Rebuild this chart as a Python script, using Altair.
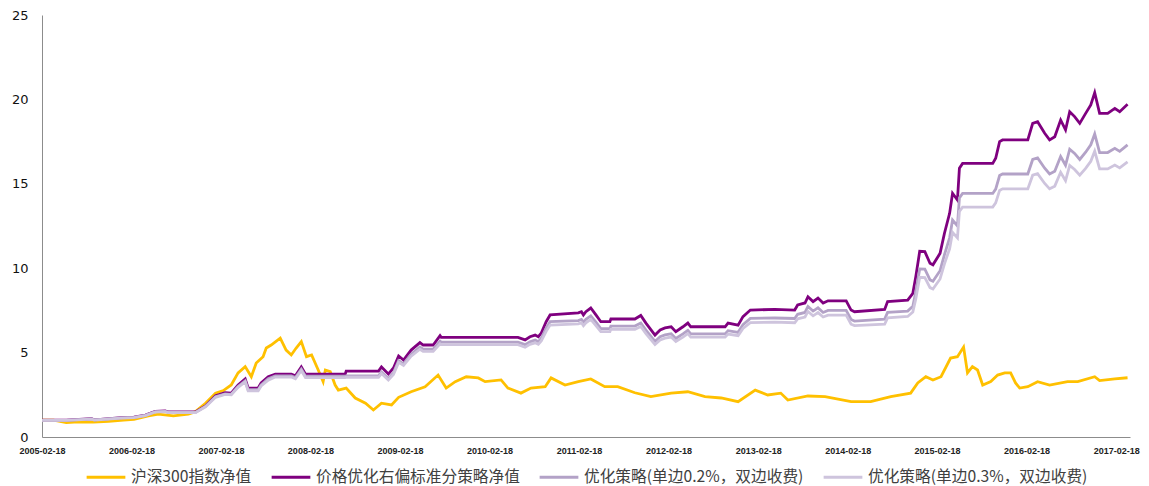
import altair as alt
import pandas as pd

names = ["沪深300指数净值", "价格优化右偏标准分策略净值",
         "优化策略(单边0.2%，双边收费)", "优化策略(单边0.3%，双边收费)"]
colors = ["#FFC000", "#7F007F", "#B3A2C7", "#CEC4DD"]

tick_dates = ["2005-02-18", "2006-02-18", "2007-02-18", "2008-02-18", "2009-02-18",
              "2010-02-18", "2011-02-18", "2012-02-18", "2013-02-18", "2014-02-18",
              "2015-02-18", "2016-02-18", "2017-02-18"]
x_domain = ["2005-02-18", "2017-04-15"]
y_ticks = [0, 5, 10, 15, 20, 25]

# 沪深300指数净值
idx_dates = [
    "2005-02-18", "2005-04-06", "2005-05-28", "2005-07-17", "2005-09-16", "2005-11-17",
    "2006-01-17", "2006-02-28", "2006-04-28", "2006-06-08", "2006-08-08", "2006-10-08",
    "2006-11-06", "2006-12-17", "2007-01-27", "2007-02-28", "2007-04-01", "2007-04-29",
    "2007-05-28", "2007-06-22", "2007-07-12", "2007-08-09", "2007-08-22", "2007-09-11",
    "2007-10-18", "2007-11-11", "2007-12-02", "2007-12-22", "2008-01-12", "2008-02-02",
    "2008-02-23", "2008-03-21", "2008-04-10", "2008-04-19", "2008-05-09", "2008-05-29",
    "2008-06-11", "2008-07-13", "2008-08-19", "2008-09-30", "2008-11-01", "2008-12-04",
    "2009-01-14", "2009-02-12", "2009-04-04", "2009-05-31", "2009-07-23", "2009-08-25",
    "2009-10-01", "2009-11-15", "2010-01-03", "2010-01-31", "2010-04-06", "2010-05-04",
    "2010-06-26", "2010-08-06", "2010-10-03", "2010-10-27", "2010-12-23", "2011-02-15",
    "2011-04-07", "2011-06-03", "2011-07-26", "2011-10-04", "2011-12-08", "2012-02-29",
    "2012-05-07", "2012-07-16", "2012-09-20", "2012-11-28", "2013-02-06", "2013-03-29",
    "2013-05-21", "2013-06-19", "2013-09-09", "2013-11-18", "2014-03-04", "2014-05-23",
    "2014-08-13", "2014-11-02", "2014-12-01", "2015-01-03", "2015-02-01", "2015-03-06",
    "2015-04-14", "2015-05-12", "2015-06-06", "2015-06-22", "2015-07-12", "2015-08-02",
    "2015-08-23", "2015-09-25", "2015-10-23", "2015-11-21", "2015-12-15", "2016-01-04",
    "2016-01-21", "2016-02-23", "2016-04-03", "2016-05-22", "2016-08-03", "2016-09-14",
    "2016-11-22", "2016-12-12", "2017-02-12", "2017-04-05"]
idx_values = [
    1.00, 1.00, 0.85, 0.90, 0.88, 0.92,
    1.00, 1.05, 1.25, 1.35, 1.25, 1.35,
    1.50, 2.00, 2.60, 2.75, 3.08, 3.80,
    4.17, 3.57, 4.38, 4.76, 5.27, 5.45,
    5.86, 5.15, 4.86, 5.27, 5.65, 4.76,
    4.86, 3.97, 3.28, 3.97, 3.87, 3.08,
    2.78, 2.90, 2.31, 2.00, 1.60, 2.00,
    1.90, 2.35, 2.68, 2.98, 3.67, 2.90,
    3.28, 3.57, 3.50, 3.28, 3.38, 2.90,
    2.60, 2.90, 2.98, 3.50, 3.08, 3.28,
    3.44, 2.98, 2.98, 2.62, 2.39, 2.60,
    2.68, 2.39, 2.31, 2.09, 2.78, 2.49,
    2.60, 2.19, 2.43, 2.39, 2.09, 2.09,
    2.39, 2.60, 3.20, 3.57, 3.38, 3.57,
    4.68, 4.76, 5.33, 3.80, 4.17, 3.97,
    3.08, 3.28, 3.67, 3.80, 3.80, 3.20,
    2.90, 2.98, 3.28, 3.08, 3.28, 3.28,
    3.57, 3.34, 3.44, 3.51]

# 策略净值（三条策略曲线共用日期）
strat_dates = [
    "2005-02-18", "2005-05-28", "2005-09-08", "2005-09-20", "2006-01-08", "2006-02-28",
    "2006-04-16", "2006-05-26", "2006-07-06", "2006-07-18", "2006-11-06", "2006-12-17",
    "2007-01-27", "2007-03-07", "2007-04-01", "2007-04-29", "2007-05-28", "2007-06-09",
    "2007-07-20", "2007-08-01", "2007-08-30", "2007-09-28", "2007-12-02", "2007-12-19",
    "2008-01-12", "2008-01-29", "2008-07-09", "2008-07-13", "2008-11-22", "2008-12-04",
    "2009-01-01", "2009-01-22", "2009-02-12", "2009-03-04", "2009-04-04", "2009-05-10",
    "2009-05-23", "2009-07-03", "2009-07-31", "2009-08-05", "2010-06-14", "2010-07-13",
    "2010-08-02", "2010-08-23", "2010-09-05", "2010-09-17", "2010-10-07", "2010-10-23",
    "2011-02-15", "2011-02-28", "2011-03-08", "2011-03-18", "2011-04-07", "2011-04-28",
    "2011-05-18", "2011-06-24", "2011-06-28", "2011-10-04", "2011-10-28", "2011-11-18",
    "2011-12-25", "2012-01-15", "2012-02-04", "2012-02-29", "2012-03-19", "2012-04-17",
    "2012-05-07", "2012-05-19", "2012-10-06", "2012-10-18", "2012-11-28", "2012-12-18",
    "2013-01-17", "2013-04-27", "2013-07-17", "2013-07-29", "2013-08-28", "2013-09-09",
    "2013-09-30", "2013-10-20", "2013-11-10", "2013-11-30", "2014-02-12", "2014-03-04",
    "2014-03-18", "2014-07-19", "2014-07-31", "2014-10-21", "2014-11-11", "2014-11-23",
    "2014-12-09", "2014-12-30", "2015-01-20", "2015-02-01", "2015-03-02", "2015-03-20",
    "2015-04-10", "2015-04-22", "2015-05-12", "2015-05-20", "2015-06-02", "2015-10-03",
    "2015-10-15", "2015-10-31", "2015-11-12", "2016-02-23", "2016-03-14", "2016-04-03",
    "2016-05-02", "2016-05-22", "2016-06-12", "2016-07-06", "2016-07-26", "2016-08-12",
    "2016-09-01", "2016-09-22", "2016-10-16", "2016-11-06", "2016-11-22", "2016-12-12",
    "2017-01-14", "2017-02-12", "2017-03-04", "2017-04-05"]
strat_values = [
    1.00, 1.00, 1.08, 1.02, 1.15, 1.18,
    1.30, 1.52, 1.54, 1.48, 1.48, 1.84,
    2.45, 2.62, 2.60, 3.08, 3.44, 2.90,
    2.90, 3.20, 3.57, 3.72, 3.72, 3.62,
    4.15, 3.72, 3.72, 3.90, 3.90, 4.15,
    3.73, 4.09, 4.80, 4.56, 5.15, 5.59,
    5.45, 5.45, 6.00, 5.90, 5.90, 5.75,
    5.94, 6.04, 5.94, 6.16, 6.83, 7.23,
    7.35, 7.42, 7.23, 7.42, 7.64, 7.23,
    6.83, 6.83, 6.99, 6.99, 7.20, 6.75,
    6.04, 6.34, 6.46, 6.53, 6.24, 6.53,
    6.75, 6.53, 6.53, 6.75, 6.63, 7.13,
    7.52, 7.56, 7.52, 7.82, 7.94, 8.31,
    8.02, 8.23, 7.94, 8.07, 8.07, 7.52,
    7.42, 7.56, 8.02, 8.11, 8.51, 9.50,
    11.00, 10.98, 10.29, 10.20, 10.88, 12.07,
    13.25, 14.44, 14.04, 15.92, 16.21, 16.21,
    16.51, 17.50, 17.60, 17.60, 18.58, 18.68,
    17.99, 17.60, 17.79, 18.78, 18.19, 19.27,
    18.98, 18.58, 19.17, 19.67, 20.40, 19.17,
    19.17, 19.47, 19.27, 19.71]
opt02_values = [
    0.99, 0.99, 1.07, 1.01, 1.13, 1.16,
    1.28, 1.50, 1.52, 1.46, 1.46, 1.81,
    2.39, 2.55, 2.53, 2.99, 3.33, 2.80,
    2.80, 3.09, 3.45, 3.62, 3.62, 3.52,
    4.02, 3.60, 3.60, 3.62, 3.62, 3.85,
    3.46, 3.80, 4.52, 4.33, 4.90, 5.33,
    5.20, 5.20, 5.68, 5.62, 5.62, 5.47,
    5.64, 5.74, 5.64, 5.85, 6.45, 6.83,
    6.90, 6.97, 6.80, 6.97, 7.18, 6.80,
    6.42, 6.42, 6.57, 6.57, 6.75, 6.33,
    5.66, 5.94, 6.05, 6.11, 5.84, 6.11,
    6.32, 6.11, 6.11, 6.30, 6.20, 6.66,
    7.03, 7.05, 7.02, 7.27, 7.38, 7.73,
    7.46, 7.65, 7.38, 7.50, 7.50, 6.96,
    6.87, 6.98, 7.38, 7.46, 7.75, 8.60,
    9.95, 9.94, 9.31, 9.23, 9.85, 10.80,
    11.80, 12.85, 12.50, 14.17, 14.43, 14.43,
    14.69, 15.49, 15.58, 15.58, 16.44, 16.53,
    15.92, 15.58, 15.74, 16.62, 16.10, 17.05,
    16.80, 16.44, 16.87, 17.31, 17.95, 16.85,
    16.85, 17.10, 16.92, 17.31]
opt03_values = [
    0.98, 0.98, 1.06, 1.00, 1.12, 1.15,
    1.27, 1.48, 1.50, 1.44, 1.44, 1.79,
    2.35, 2.52, 2.50, 2.94, 3.27, 2.74,
    2.74, 3.02, 3.37, 3.55, 3.55, 3.45,
    3.94, 3.52, 3.52, 3.54, 3.54, 3.76,
    3.38, 3.71, 4.42, 4.24, 4.79, 5.20,
    5.07, 5.07, 5.52, 5.47, 5.47, 5.32,
    5.49, 5.58, 5.49, 5.69, 6.26, 6.63,
    6.70, 6.77, 6.60, 6.77, 6.97, 6.60,
    6.24, 6.24, 6.38, 6.38, 6.55, 6.13,
    5.48, 5.75, 5.86, 5.92, 5.66, 5.92,
    6.12, 5.92, 5.92, 6.10, 6.00, 6.43,
    6.78, 6.80, 6.77, 7.00, 7.11, 7.44,
    7.18, 7.37, 7.11, 7.22, 7.22, 6.68,
    6.60, 6.68, 7.06, 7.14, 7.40, 8.17,
    9.46, 9.44, 8.85, 8.77, 9.36, 10.26,
    11.15, 12.13, 11.80, 13.37, 13.62, 13.62,
    13.87, 14.61, 14.70, 14.70, 15.51, 15.60,
    15.02, 14.70, 14.86, 15.68, 15.19, 16.09,
    15.85, 15.51, 15.91, 16.33, 16.93, 15.88,
    15.88, 16.11, 15.94, 16.30]

series_dates = [idx_dates, strat_dates, strat_dates, strat_dates]
series_values = [idx_values, strat_values, opt02_values, opt03_values]

frames = []
for name, d, v in zip(names, series_dates, series_values):
    frames.append(pd.DataFrame({"series": name, "date": d, "value": v}))
df = pd.concat(frames, ignore_index=True)


def ms(s):
    return int(pd.Timestamp(s, tz="UTC").value // 10**6)


x_enc = alt.X(
    "date:T",
    scale=alt.Scale(type="utc", domain=[ms(x_domain[0]), ms(x_domain[1])]),
    axis=alt.Axis(values=[ms(t) for t in tick_dates],
                  labelExpr="utcFormat(datum.value, '%Y-%m-%d')",
                  title=None, grid=False, ticks=False, domainColor="#8C8C8C",
                  labelFont="Liberation Sans", labelFontSize=9, labelFontWeight="bold",
                  labelColor="#222222", labelPadding=9, labelOverlap=False, labelFlush=False),
)
y_enc = alt.Y(
    "value:Q",
    scale=alt.Scale(domain=[0, 25], nice=False, zero=True),
    axis=alt.Axis(values=y_ticks, title=None, grid=False, ticks=False, domainColor="#8C8C8C",
                  labelFont="DejaVu Sans", labelFontSize=13, labelColor="#111111",
                  labelPadding=14),
)
color_enc = alt.Color(
    "series:N",
    scale=alt.Scale(domain=names, range=colors),
    legend=alt.Legend(title=None, orient="none", legendX=43, legendY=441,
                      direction="horizontal", symbolType="stroke", symbolSize=1500,
                      symbolStrokeWidth=3, labelFont="Noto Sans CJK SC", labelFontSize=15.7,
                      labelColor="#404040", columnPadding=13, labelOffset=4,
                      labelLimit=0, padding=0),
)

base = alt.Chart(df).mark_line(strokeWidth=2.8).encode(x=x_enc, y=y_enc, color=color_enc)
layers = [base.transform_filter(alt.datum.series == n) for n in names]

chart = alt.layer(*layers).properties(
    width=1088, height=422,
    background="white",
    autosize=alt.AutoSizeParams(type="none"),
    padding={"left": 34, "top": 7, "right": 11, "bottom": 54},
).configure_view(stroke=None)

chart.save("out.html", embed_options={"renderer": "svg", "actions": False})
